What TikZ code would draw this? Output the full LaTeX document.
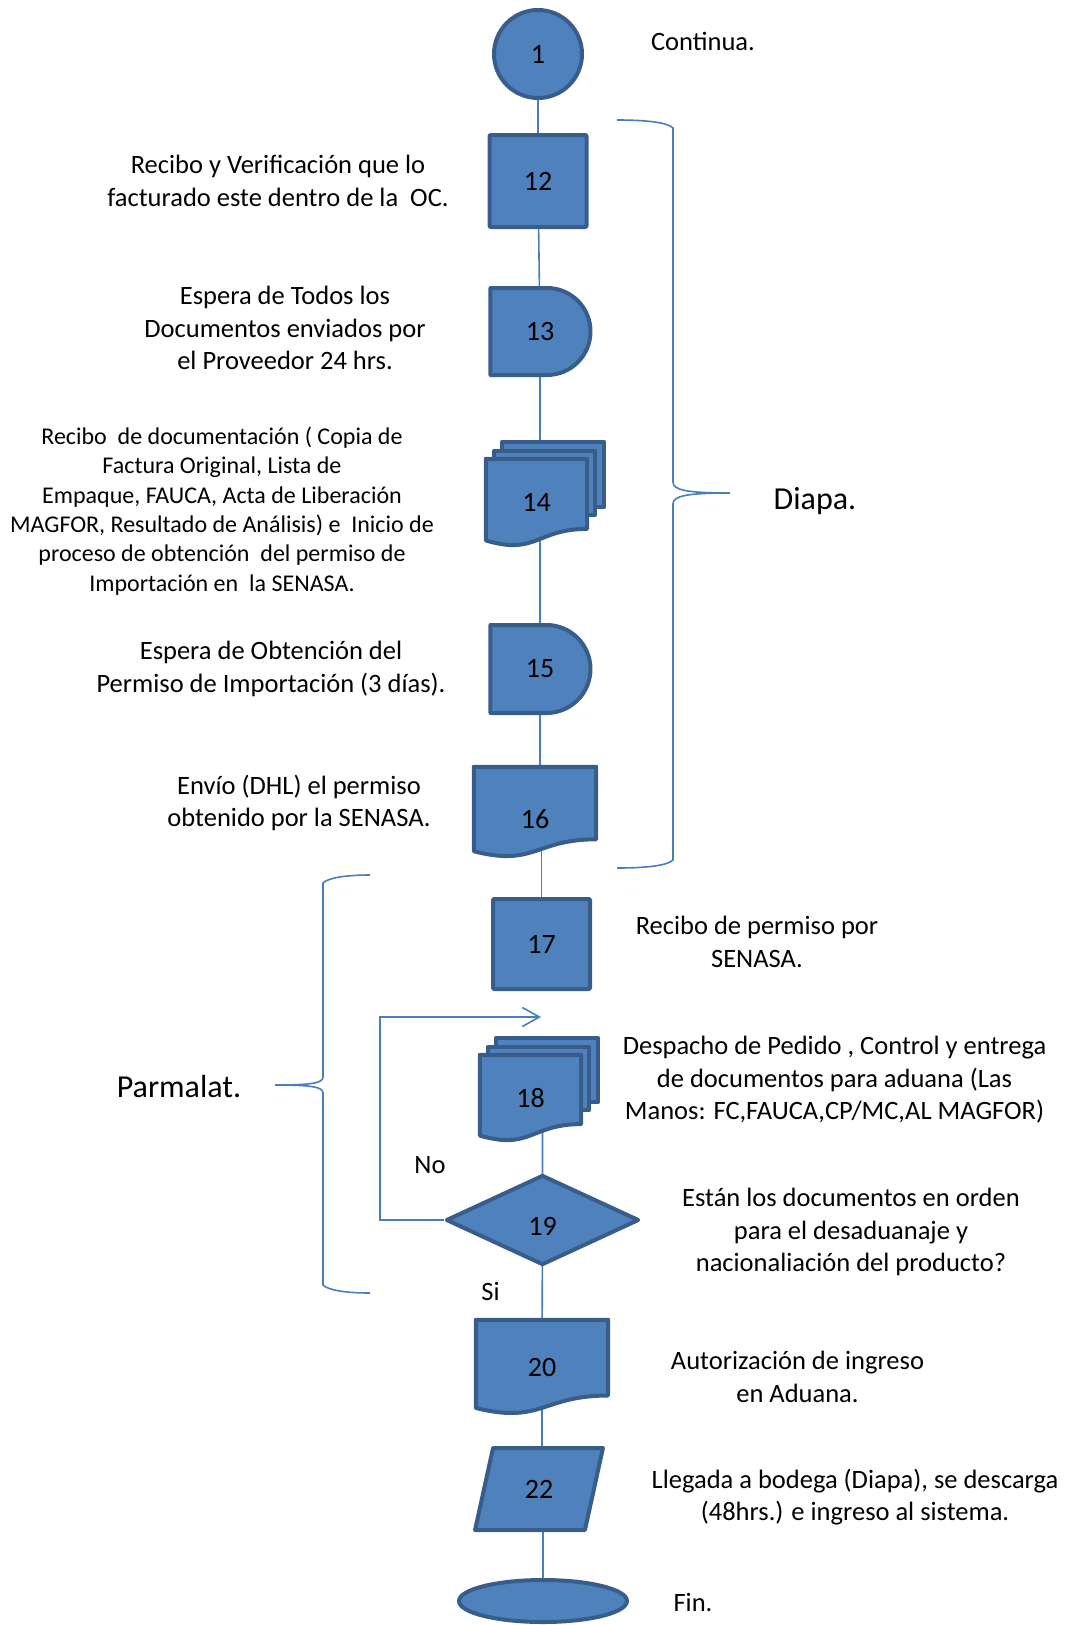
\documentclass[tikz,border=0pt]{standalone}
\usepackage{fontspec}
\setmainfont{Carlito}
\usetikzlibrary{shapes.geometric,shapes.misc,arrows.meta,calc,backgrounds}

\definecolor{boxblue}{RGB}{79,129,189}
\definecolor{boxline}{RGB}{56,93,138}
\definecolor{linkblue}{RGB}{74,126,187}

\tikzset{
  shp/.style={fill=boxblue, draw=boxline, line width=4pt, line join=round},
  num/.style={shp, inner sep=0pt, font=\fontsize{28}{32}\selectfont},
  proc/.style={num, rectangle, rounded corners=1pt},
  delaybox/.style={num, rounded rectangle, rounded rectangle left arc=none},
  startcirc/.style={num, circle},
  docbox/.style={inner sep=0pt, font=\fontsize{28}{32}\selectfont},
  decision/.style={num, diamond},
  inout/.style={num, trapezium, trapezium left angle=73, trapezium right angle=107, trapezium stretches=true},
  endcirc/.style={num, ellipse},
  note/.style={align=center, font=\fontsize{26.5}{32.5}\selectfont},
  bignote/.style={font=\fontsize{32}{38}\selectfont},
  conn/.style={draw=linkblue, line width=1.6pt},
}

% page with wavy lower edge
\newcommand\docpage[1]{%
  \filldraw[shp] (#1.north west) -- (#1.north east)
    -- ($(#1.north east)!0.802!(#1.south east)$)
    .. controls ($(#1.north)!0.802!(#1.south)$) and ($(#1.north)!1.107!(#1.south)$)
    .. ($(#1.north west)!0.934!(#1.south west)$) -- cycle;}
% stack of three pages
\newcommand\docstack[1]{%
  \filldraw[shp] ($(#1.north west)+(16,-17)$) rectangle ($(#1.north east)!0.802!(#1.south east)+(17,-22)$);
  \filldraw[shp] ($(#1.north west)+(8,-8)$) rectangle ($(#1.north east)!0.802!(#1.south east)+(8,-14)$);
  \docpage{#1}}

\begin{document}
\begin{tikzpicture}[x=1pt, y=-1pt]
  \useasboundingbox (0,0) rectangle (1068,1625);
  % main column
  \node[startcirc, minimum size=88pt] (n1) at (538,54) {1};
  \node[proc, minimum width=97pt, minimum height=92pt] (n12) at (538,181) {12};
  \node[delaybox, minimum width=100pt, minimum height=87pt] (n13) at (540,331.5) {13};
  \node[docbox, minimum width=101pt, minimum height=87pt] (n14) at (536.5,502.5) {14};
  \node[delaybox, minimum width=100pt, minimum height=88pt] (n15) at (540,669) {15};
  \node[docbox, minimum width=122pt, minimum height=90pt, text height=34pt] (n16) at (535,812) {16};
  \node[proc, minimum width=97pt, minimum height=90pt] (n17) at (541.5,944) {17};
  \node[docbox, minimum width=101pt, minimum height=86pt] (n18) at (530.5,1098) {18};
  \node[decision, minimum width=193pt, minimum height=90pt, text height=30pt] (n19) at (542.5,1220) {19};
  \node[docbox, minimum width=132pt, minimum height=94pt] (n20) at (542,1367) {20};
  \node[inout, minimum width=128pt, minimum height=82pt] (n22) at (539,1489) {22};
  \node[endcirc, minimum width=168pt, minimum height=42pt] (nfin) at (543,1601) {};
  \coordinate (loop) at (541,1017);

  \begin{scope}[on background layer]
    \draw[conn] (n1.center) -- (n12.center) -- (n13.center) -- (n13.center |- n14.center);
    \draw[conn] (n15.center |- n14.center) -- (n15.center) -- (n15.center |- n16.center);
    \draw[conn] (n17.center |- n16.center) -- (n17.center);
    \draw[conn] (n19.center |- n18.center) -- (n19.center) -- (n20.center) -- (n20.center |- n22.center);
    \draw[conn] (nfin.center |- n22.center) -- (nfin.center);
    \draw[conn, -{Straight Barb[length=17pt, width=19pt]}] (n19.west) -- ++(-64,0) |- (loop);
    \docstack{n14}
    \docpage{n16}
    \docstack{n18}
    \docpage{n20}
  \end{scope}

  % braces
  \draw[conn] (617,120) .. controls (650,120) and (668,123) .. (673,128) -- (673,482)
    .. controls (673,490) and (686,493) .. (730,493) .. controls (686,493) and (673,496) .. (673,504)
    -- (673,860) .. controls (668,865) and (650,868) .. (617,868);
  \draw[conn] (370,875) .. controls (345,875) and (328,878) .. (323,883) -- (323,1077)
    .. controls (323,1083) and (312,1085) .. (275,1085) .. controls (312,1085) and (323,1087) .. (323,1093)
    -- (323,1285) .. controls (328,1290) and (345,1293) .. (370,1293);
  \node[bignote] (diapa) at (815,501) {Diapa.};
  \node[bignote] (parma) at (179,1087) {Parmalat.};

  % texts
  \node[note] (c1) at (703,41) {Continua.};
  \node[note] (c12) at (278,181) {Recibo y Verificación que lo\\facturado este dentro de la~~OC.};
  \node[note] (c13) at (285,328) {Espera de Todos los\\Documentos enviados por\\el Proveedor 24 hrs.};
  \node[note, font=\fontsize{24}{29.3}\selectfont] (c14) at (222,511) {Recibo~~de documentación ( Copia de\\Factura Original, Lista de\\Empaque, FAUCA, Acta de Liberación\\MAGFOR, Resultado de Análisis) e~~Inicio de\\proceso de obtención~~del permiso de\\Importación en~~la SENASA.};
  \node[note] (c15) at (271,669) {Espera de Obtención del\\Permiso de Importación (3 días).};
  \node[note] (c16) at (299,803) {Envío (DHL) el permiso\\obtenido por la SENASA.};
  \node[note] (c17) at (757,942) {Recibo de permiso por\\SENASA.};
  \node[note] (c18) at (834.5,1080) {Despacho de Pedido , Control y entrega\\de documentos para aduana (Las\\Manos: FC,FAUCA,CP/MC,AL MAGFOR)};
  \node[note] (c19) at (851,1232) {Están los documentos en orden\\para el desaduanaje y\\nacionaliación del producto?};
  \node[note] (c20) at (797.5,1377) {Autorización de ingreso\\en Aduana.};
  \node[note] (c22) at (855,1497) {Llegada a bodega (Diapa), se descarga\\(48hrs.) e ingreso al sistema.};
  \node[note] (cfin) at (693,1602) {Fin.};
  \node[note] (no) at (430,1165) {No};
  \node[note] (si) at (490.5,1291) {Si};
\end{tikzpicture}
\end{document}
